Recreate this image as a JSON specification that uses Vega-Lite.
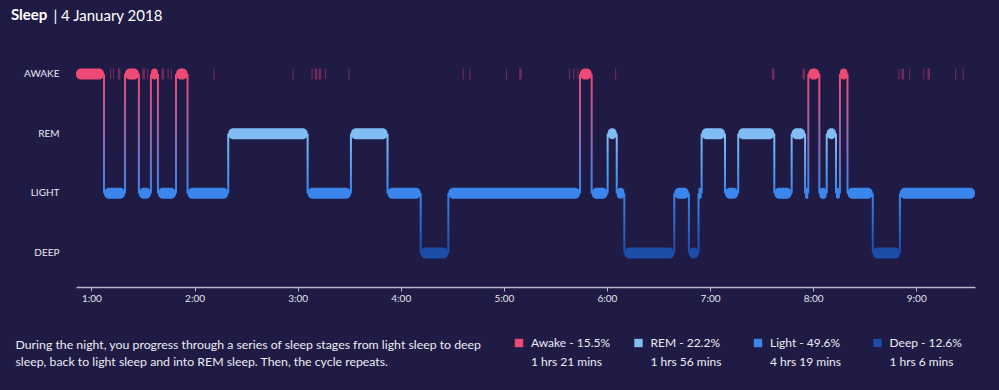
{
  "$schema": "https://vega.github.io/schema/vega-lite/v6.json",
  "width": 899,
  "height": 247,
  "autosize": "none",
  "padding": {"left": 76, "top": 40, "right": 24, "bottom": 103},
  "background": "#201b44",
  "config": {"view": {"stroke": null}, "font": "Lato", "style": {"guide-label": {"lineBreak": "\n", "lineHeight": 19}, "guide-title": {"lineBreak": "\n"}}},
  "title": {"text": "Sleep", "anchor": "start", "frame": "group", "dx": -65, "dy": 47, "offset": 20, "baseline": "alphabetic", "fontSize": 15, "fontWeight": "bold", "color": "#ffffff", "font": "Lato"},
  "datasets": {
    "segments": [
      {"stage": "AWAKE", "start": "2018-01-04T00:51:00", "end": "2018-01-04T01:07:18"},
      {"stage": "LIGHT", "start": "2018-01-04T01:07:18", "end": "2018-01-04T01:19:30"},
      {"stage": "AWAKE", "start": "2018-01-04T01:19:30", "end": "2018-01-04T01:27:36"},
      {"stage": "LIGHT", "start": "2018-01-04T01:27:36", "end": "2018-01-04T01:34:36"},
      {"stage": "AWAKE", "start": "2018-01-04T01:34:36", "end": "2018-01-04T01:38:42"},
      {"stage": "LIGHT", "start": "2018-01-04T01:38:42", "end": "2018-01-04T01:49:12"},
      {"stage": "AWAKE", "start": "2018-01-04T01:49:12", "end": "2018-01-04T01:55:54"},
      {"stage": "LIGHT", "start": "2018-01-04T01:55:54", "end": "2018-01-04T02:19:36"},
      {"stage": "REM", "start": "2018-01-04T02:19:36", "end": "2018-01-04T03:05:48"},
      {"stage": "LIGHT", "start": "2018-01-04T03:05:48", "end": "2018-01-04T03:31:00"},
      {"stage": "REM", "start": "2018-01-04T03:31:00", "end": "2018-01-04T03:52:18"},
      {"stage": "LIGHT", "start": "2018-01-04T03:52:18", "end": "2018-01-04T04:11:36"},
      {"stage": "DEEP", "start": "2018-01-04T04:11:36", "end": "2018-01-04T04:27:42"},
      {"stage": "LIGHT", "start": "2018-01-04T04:27:42", "end": "2018-01-04T05:44:18"},
      {"stage": "AWAKE", "start": "2018-01-04T05:44:18", "end": "2018-01-04T05:51:06"},
      {"stage": "LIGHT", "start": "2018-01-04T05:51:06", "end": "2018-01-04T06:00:24"},
      {"stage": "REM", "start": "2018-01-04T06:00:24", "end": "2018-01-04T06:05:42"},
      {"stage": "LIGHT", "start": "2018-01-04T06:05:42", "end": "2018-01-04T06:10:06"},
      {"stage": "DEEP", "start": "2018-01-04T06:10:06", "end": "2018-01-04T06:39:12"},
      {"stage": "LIGHT", "start": "2018-01-04T06:39:12", "end": "2018-01-04T06:47:42"},
      {"stage": "DEEP", "start": "2018-01-04T06:47:42", "end": "2018-01-04T06:53:18"},
      {"stage": "LIGHT", "start": "2018-01-04T06:53:18", "end": "2018-01-04T06:55:06"},
      {"stage": "REM", "start": "2018-01-04T06:55:06", "end": "2018-01-04T07:08:42"},
      {"stage": "LIGHT", "start": "2018-01-04T07:08:42", "end": "2018-01-04T07:16:24"},
      {"stage": "REM", "start": "2018-01-04T07:16:24", "end": "2018-01-04T07:37:24"},
      {"stage": "LIGHT", "start": "2018-01-04T07:37:24", "end": "2018-01-04T07:47:30"},
      {"stage": "REM", "start": "2018-01-04T07:47:30", "end": "2018-01-04T07:55:18"},
      {"stage": "LIGHT", "start": "2018-01-04T07:55:18", "end": "2018-01-04T07:57:12"},
      {"stage": "AWAKE", "start": "2018-01-04T07:57:12", "end": "2018-01-04T08:03:36"},
      {"stage": "LIGHT", "start": "2018-01-04T08:03:36", "end": "2018-01-04T08:07:54"},
      {"stage": "REM", "start": "2018-01-04T08:07:54", "end": "2018-01-04T08:13:18"},
      {"stage": "LIGHT", "start": "2018-01-04T08:13:18", "end": "2018-01-04T08:15:36"},
      {"stage": "AWAKE", "start": "2018-01-04T08:15:36", "end": "2018-01-04T08:20:00"},
      {"stage": "LIGHT", "start": "2018-01-04T08:20:00", "end": "2018-01-04T08:34:42"},
      {"stage": "DEEP", "start": "2018-01-04T08:34:42", "end": "2018-01-04T08:50:30"},
      {"stage": "LIGHT", "start": "2018-01-04T08:50:30", "end": "2018-01-04T09:34:12"}
    ],
    "brief": [
      {"stage": "AWAKE", "start": "2018-01-04T01:10:48", "end": "2018-01-04T01:11:28"},
      {"stage": "AWAKE", "start": "2018-01-04T01:12:30", "end": "2018-01-04T01:13:10"},
      {"stage": "AWAKE", "start": "2018-01-04T01:15:18", "end": "2018-01-04T01:16:48"},
      {"stage": "AWAKE", "start": "2018-01-04T01:29:36", "end": "2018-01-04T01:31:06"},
      {"stage": "AWAKE", "start": "2018-01-04T01:32:18", "end": "2018-01-04T01:32:58"},
      {"stage": "AWAKE", "start": "2018-01-04T01:40:48", "end": "2018-01-04T01:42:18"},
      {"stage": "AWAKE", "start": "2018-01-04T01:44:18", "end": "2018-01-04T01:44:58"},
      {"stage": "AWAKE", "start": "2018-01-04T01:46:06", "end": "2018-01-04T01:46:46"},
      {"stage": "AWAKE", "start": "2018-01-04T02:11:00", "end": "2018-01-04T02:11:40"},
      {"stage": "AWAKE", "start": "2018-01-04T02:57:00", "end": "2018-01-04T02:57:40"},
      {"stage": "AWAKE", "start": "2018-01-04T03:08:00", "end": "2018-01-04T03:08:40"},
      {"stage": "AWAKE", "start": "2018-01-04T03:09:54", "end": "2018-01-04T03:11:24"},
      {"stage": "AWAKE", "start": "2018-01-04T03:12:12", "end": "2018-01-04T03:13:42"},
      {"stage": "AWAKE", "start": "2018-01-04T03:15:54", "end": "2018-01-04T03:16:34"},
      {"stage": "AWAKE", "start": "2018-01-04T03:29:30", "end": "2018-01-04T03:30:10"},
      {"stage": "AWAKE", "start": "2018-01-04T04:36:00", "end": "2018-01-04T04:36:40"},
      {"stage": "AWAKE", "start": "2018-01-04T04:39:54", "end": "2018-01-04T04:40:34"},
      {"stage": "AWAKE", "start": "2018-01-04T05:01:12", "end": "2018-01-04T05:01:52"},
      {"stage": "AWAKE", "start": "2018-01-04T05:08:54", "end": "2018-01-04T05:10:24"},
      {"stage": "AWAKE", "start": "2018-01-04T05:37:54", "end": "2018-01-04T05:38:34"},
      {"stage": "AWAKE", "start": "2018-01-04T05:40:24", "end": "2018-01-04T05:41:04"},
      {"stage": "AWAKE", "start": "2018-01-04T05:42:42", "end": "2018-01-04T05:43:22"},
      {"stage": "AWAKE", "start": "2018-01-04T06:04:42", "end": "2018-01-04T06:05:22"},
      {"stage": "AWAKE", "start": "2018-01-04T07:36:00", "end": "2018-01-04T07:37:30"},
      {"stage": "AWAKE", "start": "2018-01-04T07:53:48", "end": "2018-01-04T07:55:18"},
      {"stage": "AWAKE", "start": "2018-01-04T08:49:36", "end": "2018-01-04T08:50:16"},
      {"stage": "AWAKE", "start": "2018-01-04T08:51:24", "end": "2018-01-04T08:52:54"},
      {"stage": "AWAKE", "start": "2018-01-04T08:55:48", "end": "2018-01-04T08:56:28"},
      {"stage": "AWAKE", "start": "2018-01-04T09:04:06", "end": "2018-01-04T09:04:46"},
      {"stage": "AWAKE", "start": "2018-01-04T09:06:30", "end": "2018-01-04T09:08:00"},
      {"stage": "AWAKE", "start": "2018-01-04T09:22:36", "end": "2018-01-04T09:23:16"},
      {"stage": "AWAKE", "start": "2018-01-04T09:27:00", "end": "2018-01-04T09:27:40"}
    ]
  },
  "encoding": {
    "x": {
      "field": "start", "type": "temporal",
      "scale": {"nice": false, "padding": 0},
      "axis": {
        "format": "%-H:%M",
        "tickCount": 9,
        "labelColor": "#e4e4ee", "labelFontSize": 10, "labelFont": "Lato", "labelPadding": 2, "labelFlush": false,
        "domainColor": "#b8b8c8", "domainWidth": 1.5, "tickColor": "#b8b8c8", "tickSize": 4, "grid": false,
        "title": "During the night, you progress through a series of sleep stages from light sleep to deep\nsleep, back to light sleep and into REM sleep. Then, the cycle repeats.",
        "titleAnchor": "start", "titleAlign": "left", "titleX": -61, "titleY": 61, "titleBaseline": "alphabetic",
        "titleFontSize": 12.3, "titleFontWeight": "normal", "titleColor": "#ececf4", "titleLineHeight": 17.5, "titleFont": "Lato"
      }
    },
    "y": {
      "field": "stage", "type": "nominal",
      "scale": {"type": "band", "domain": ["AWAKE", "REM", "LIGHT", "DEEP"], "paddingInner": 0.8156, "paddingOuter": 0.478},
      "axis": {
        "title": "| 4 January 2018", "titleAngle": 0, "titleAlign": "left", "titleBaseline": "alphabetic",
        "titleX": -23, "titleY": -20, "titleFontSize": 15, "titleFontWeight": "normal", "titleColor": "#ffffff", "titleFont": "Lato",
        "labelColor": "#e8e8f0", "labelFontSize": 10, "labelFont": "Lato", "labelPadding": 17,
        "domain": false, "ticks": false, "tickSize": 0, "grid": false
      }
    }
  },
  "layer": [
    {
      "data": {"name": "segments"},
      "transform": [
        {"window": [{"op": "lag", "field": "stage", "as": "prev"}], "sort": [{"field": "start"}]},
        {"filter": "datum.prev != null && (datum.stage == 'AWAKE' || datum.prev == 'AWAKE')"}
      ],
      "mark": {"type": "bar", "size": 2, "fill": {"gradient": "linear", "x1": 0, "y1": 0, "x2": 0, "y2": 1, "stops": [{"offset": 0, "color": "#ee4a75"}, {"offset": 1, "color": "#3a86ed"}]}},
      "encoding": {"y2": {"field": "prev"}}
    },
    {
      "data": {"name": "segments"},
      "transform": [
        {"window": [{"op": "lag", "field": "stage", "as": "prev"}], "sort": [{"field": "start"}]},
        {"filter": "datum.prev != null && (datum.stage == 'REM' || datum.prev == 'REM')"}
      ],
      "mark": {"type": "bar", "size": 2, "fill": {"gradient": "linear", "x1": 0, "y1": 0, "x2": 0, "y2": 1, "stops": [{"offset": 0, "color": "#80bdf5"}, {"offset": 1, "color": "#3a86ed"}]}},
      "encoding": {"y2": {"field": "prev"}}
    },
    {
      "data": {"name": "segments"},
      "transform": [
        {"window": [{"op": "lag", "field": "stage", "as": "prev"}], "sort": [{"field": "start"}]},
        {"filter": "datum.prev != null && (datum.stage == 'DEEP' || datum.prev == 'DEEP')"}
      ],
      "mark": {"type": "bar", "size": 2, "fill": {"gradient": "linear", "x1": 0, "y1": 0, "x2": 0, "y2": 1, "stops": [{"offset": 0, "color": "#3a86ed"}, {"offset": 1, "color": "#1c4da8"}]}},
      "encoding": {"y2": {"field": "prev"}}
    },
    {
      "data": {"name": "segments"},
      "mark": {"type": "bar", "cornerRadius": 5},
      "encoding": {
        "x2": {"field": "end"},
        "color": {
          "field": "stage", "type": "nominal",
          "scale": {"domain": ["AWAKE", "REM", "LIGHT", "DEEP"], "range": ["#ee4a75", "#80bdf5", "#3a86ed", "#1c4da8"]},
          "legend": {
            "orient": "none", "legendX": 437, "legendY": 297, "direction": "horizontal", "columns": 4, "gridAlign": "all",
            "title": null, "symbolType": "square", "symbolSize": 70, "symbolStrokeWidth": 0,
            "labelFontSize": 12, "labelColor": "#ececf4", "labelFont": "Lato", "labelOffset": 6, "labelLimit": 0, "columnPadding": 21.5,
            "labelExpr": "datum.label == 'AWAKE' ? 'Awake - 15.5%\\n1 hrs 21 mins' : datum.label == 'REM' ? 'REM - 22.2%\\n1 hrs 56 mins' : datum.label == 'LIGHT' ? 'Light - 49.6%\\n4 hrs 19 mins' : 'Deep - 12.6%\\n1 hrs 6 mins'"
          }
        }
      }
    },
    {
      "data": {"name": "brief"},
      "mark": {"type": "bar", "cornerRadius": 0.5, "fill": "#d0407a", "opacity": 0.45},
      "encoding": {"x2": {"field": "end"}}
    }
  ]
}
